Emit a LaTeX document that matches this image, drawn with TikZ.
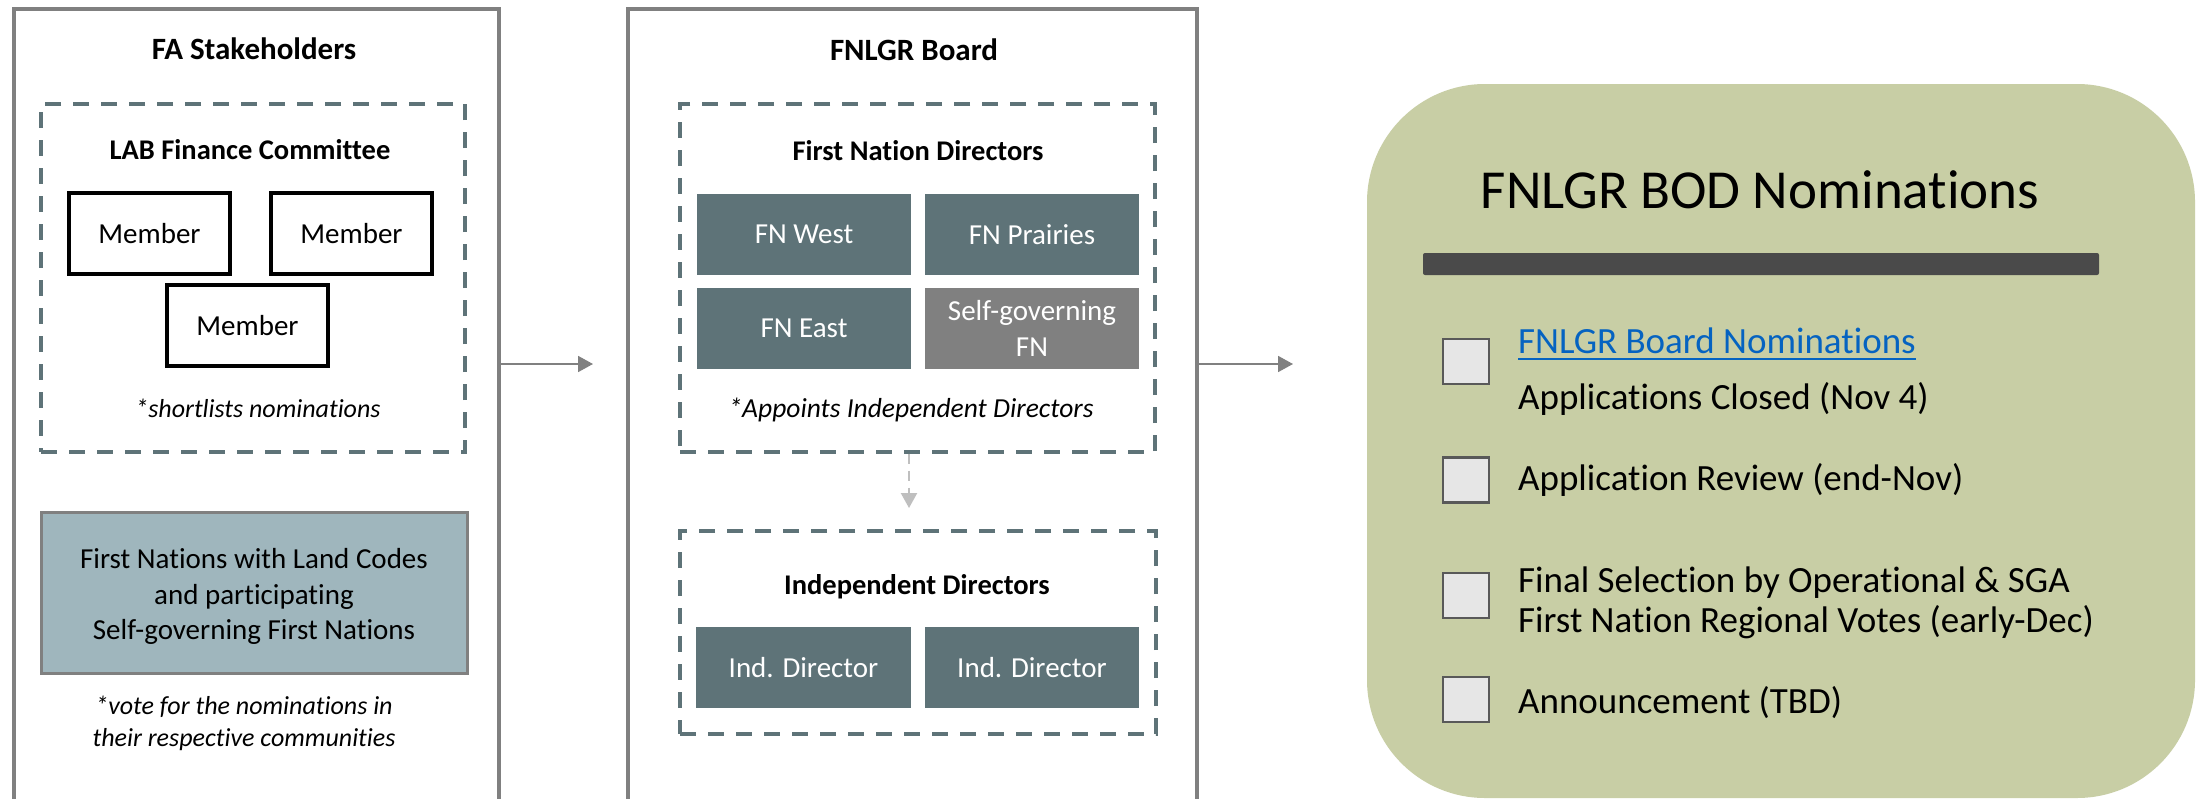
\documentclass[tikz,border=0pt]{standalone}
\usepackage{fontspec}
\setmainfont[Ligatures=NoCommon]{Carlito}
\usetikzlibrary{arrows.meta}
\definecolor{outergray}{HTML}{808080}
\definecolor{slate}{RGB}{94,115,120}
\definecolor{lightblue}{RGB}{159,182,189}
\definecolor{sage}{RGB}{200,206,165}
\definecolor{barcol}{HTML}{4A4A4A}
\definecolor{cbfill}{HTML}{E6E6E6}
\definecolor{cbdraw}{HTML}{595959}
\definecolor{linkblue}{HTML}{0563C1}
\definecolor{darrow}{HTML}{BFBFBF}
\definecolor{sggray}{HTML}{808080}
\begin{document}
\begin{tikzpicture}[x=1pt,y=-1pt,
  outerbox/.style={draw=outergray, line width=3.5pt, rectangle, anchor=north west, inner sep=0pt, minimum width=485pt, minimum height=893pt},
  dashbox/.style={draw=slate, line width=3.5pt, dash pattern=on 16pt off 12pt, rectangle, inner sep=0pt},
  member/.style={draw=black, line width=3.2pt, minimum width=161pt, minimum height=81pt, inner sep=0pt, font=\fontsize{29}{35.5}\selectfont},
  fnbox/.style={fill=slate, text=white, minimum width=214pt, minimum height=81pt, inner sep=0pt, align=center, font=\fontsize{29}{35.5}\selectfont},
  title/.style={font=\bfseries\fontsize{31}{37}\selectfont, inner sep=0pt, anchor=base},
  subtitle/.style={font=\bfseries\fontsize{28.5}{34}\selectfont, inner sep=0pt, anchor=base},
  note/.style={font=\itshape\fontsize{26}{32}\selectfont, inner sep=0pt, align=center},
  flow/.style={draw=outergray, line width=1.8pt, -{Triangle[length=15pt,width=16pt]}},
  dflow/.style={draw=darrow, line width=2.2pt, dash pattern=on 10pt off 7pt, -{Triangle[length=15pt,width=16pt]}},
  checkbox/.style={draw=cbdraw, fill=cbfill, line width=2.8pt, minimum width=46pt, minimum height=45pt, inner sep=0pt},
  item/.style={font=\fontsize{37}{40}\selectfont, inner sep=0pt, align=left},
]
\path[use as bounding box] (0,0) rectangle (2197,798);
\fill[white] (0,0) rectangle (2197,798);
\clip (0,0) rectangle (2197,798);

% ---------- FA Stakeholders ----------
\node[outerbox] (fa) at (12,7) {};
\node[title] (fat) at (254,59) {FA Stakeholders};
\node[dashbox, minimum width=424pt, minimum height=348pt] (lab) at (253,278) {};
\node[subtitle] (labt) at (250,159) {LAB Finance Committee};
\node[member] (m1) at (149.5,233.5) {Member};
\node[member] (m2) at (351.5,233.5) {Member};
\node[member] (m3) at (247.5,325.5) {Member};
\node[note, anchor=base] (short) at (258,417) {*shortlists nominations};
\node[draw=outergray, line width=3pt, fill=lightblue, minimum width=426pt, minimum height=161pt, inner sep=0pt] (fnlc) at (254,592.5) {};
\node[inner sep=0pt, align=center, font=\fontsize{29}{35.5}\selectfont] (fnlctext) at (254,596.5) {First Nations with Land Codes\\and participating\\Self-governing First Nations};
\node[note] (vote) at (244,723) {*vote for the nominations in\\their respective communities};

% ---------- FNLGR Board ----------
\node[outerbox, minimum width=569pt] (fnlgr) at (626,7) {};
\node[title] (fnlgrt) at (914,60) {FNLGR Board};
\node[dashbox, minimum width=475pt, minimum height=348pt] (fndir) at (917.5,278) {};
\node[subtitle] (fndirt) at (918,160) {First Nation Directors};
\node[fnbox] (west) at (804,234.5) {FN West};
\node[fnbox] (prairies) at (1032,234.5) {FN Prairies};
\node[fnbox] (east) at (804,328.5) {FN East};
\node[fnbox, fill=sggray] (sgfn) at (1032,328.5) {Self-governing\\FN};
\node[note, anchor=base, font=\itshape\fontsize{27.5}{32}\selectfont] (appoints) at (911,417) {*Appoints Independent Directors};
\node[dashbox, minimum width=476pt, minimum height=203pt] (inddir) at (918,632.5) {};
\node[subtitle] (inddirt) at (917,594) {Independent Directors};
\node[fnbox, minimum width=215pt] (ind1) at (803.5,667.5) {Ind. Director};
\node[fnbox, minimum width=214pt] (ind2) at (1032,667.5) {Ind. Director};

% ---------- Nominations panel ----------
\node[fill=sage, rounded corners=118pt, minimum width=828pt, minimum height=714pt, inner sep=0pt] (panel) at (1781,441) {};
\node[font=\fontsize{55}{60}\selectfont, inner sep=0pt, anchor=base] (ptitle) at (1760,208) {FNLGR BOD Nominations};
\node[fill=barcol, rounded corners=2pt, minimum width=676pt, minimum height=22pt, inner sep=0pt] (bar) at (1761,264) {};
\node[checkbox] (cb1) at (1466,361.5) {};
\node[checkbox] (cb2) at (1466,480) {};
\node[checkbox] (cb3) at (1466,595.5) {};
\node[checkbox] (cb4) at (1466,699.5) {};
\node[item, text=linkblue, anchor=base west] (link) at (1518,353) {FNLGR Board Nominations};
\draw[linkblue, line width=2pt] ([yshift=-6pt]link.base west) -- ([yshift=-6pt]link.base east);
\node[item, anchor=base west] (closed) at (1518,409) {Applications Closed (Nov 4)};
\node[item, anchor=base west] (review) at (1518,490) {Application Review (end-Nov)};
\node[item, anchor=west] (final) at (1518,603) {Final Selection by Operational \& SGA\\First Nation Regional Votes (early-Dec)};
\node[item, anchor=base west] (announce) at (1518,713) {Announcement (TBD)};

% ---------- Connectors ----------
\coordinate (a1) at (593,364);
\coordinate (a2) at (1293,364);
\coordinate (a3) at (909,508);
\draw[flow] (fa.east |- a1) -- (a1);
\draw[flow] (fnlgr.east |- a2) -- (a2);
\draw[dflow] (fndir.south -| a3) -- (a3);
\end{tikzpicture}
\end{document}
